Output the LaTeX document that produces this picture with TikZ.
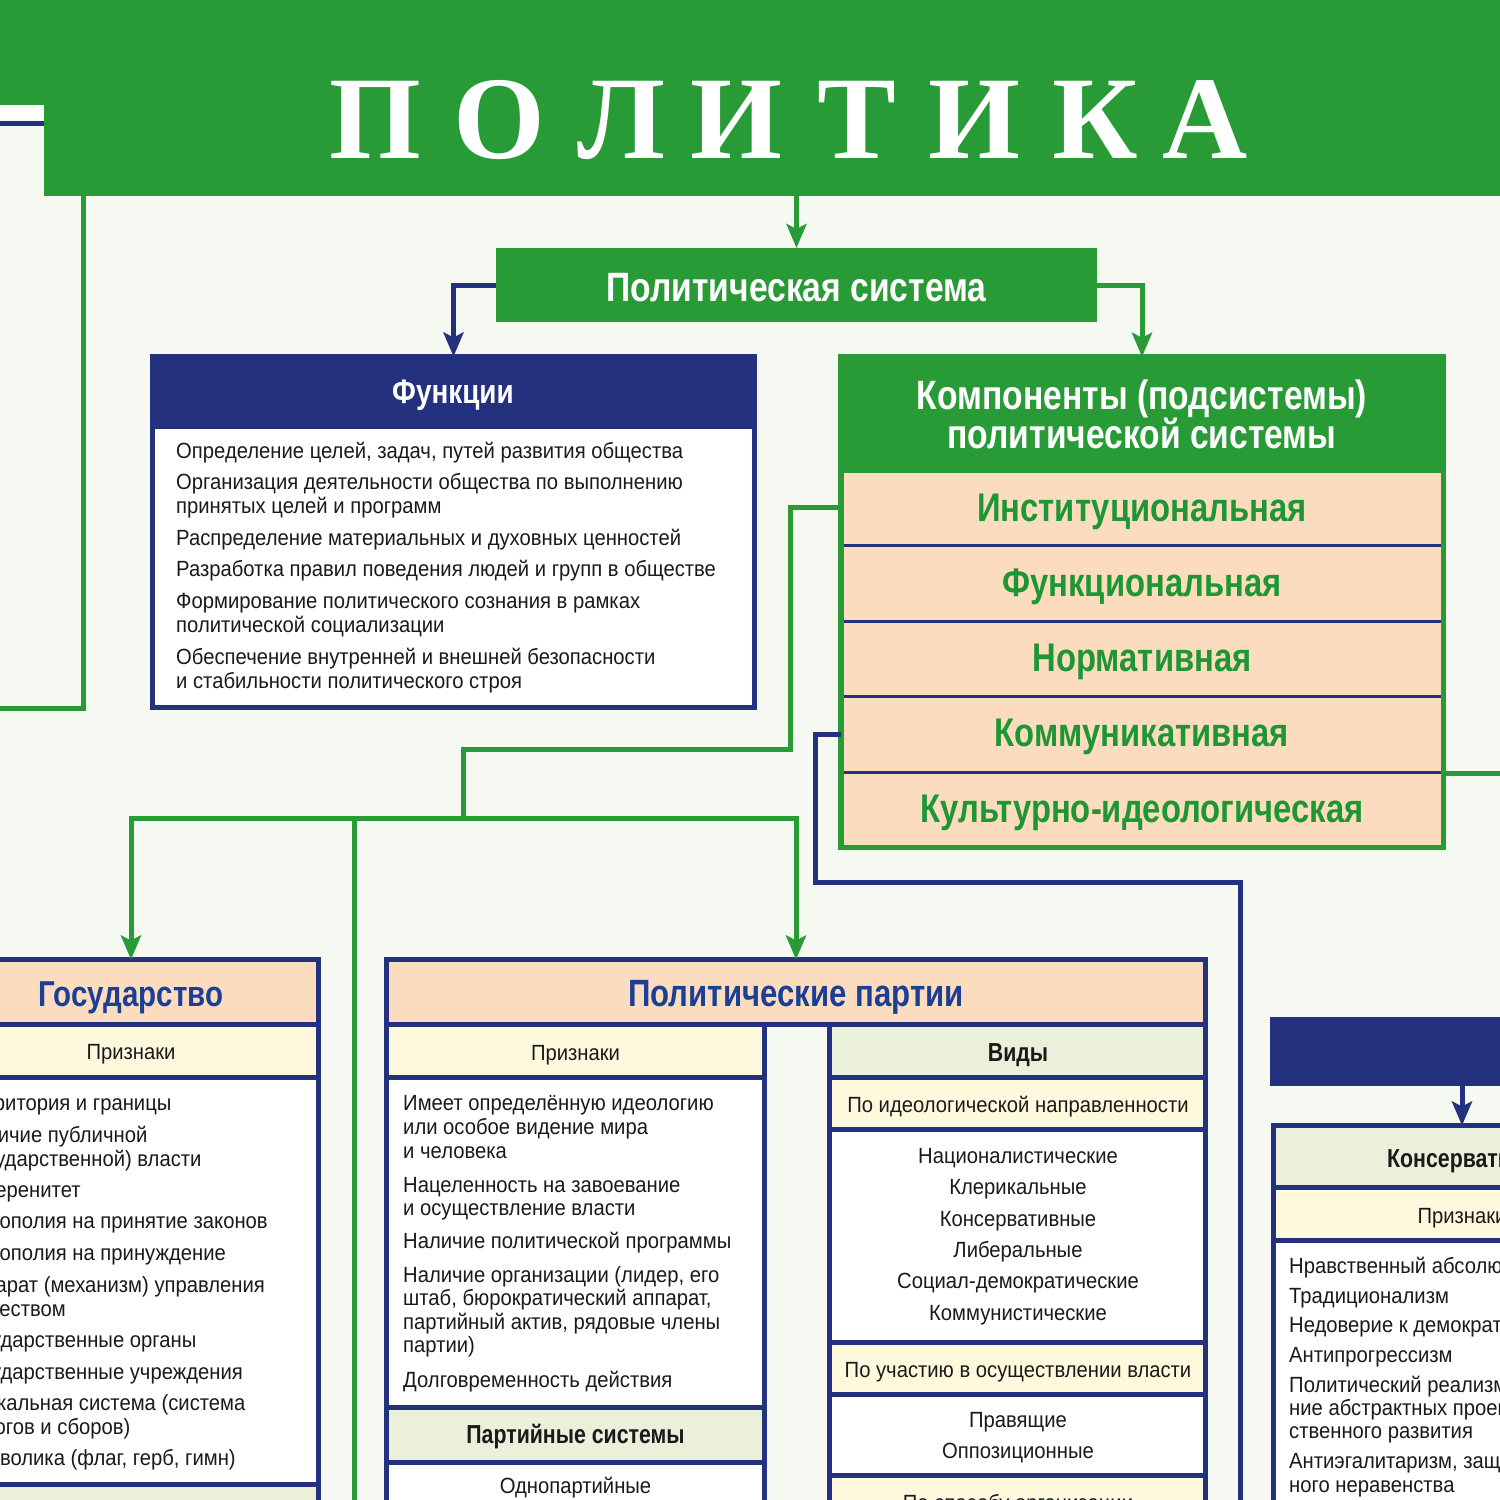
\documentclass[tikz,border=0pt]{standalone}
\usepackage{fontspec}
\setmainfont{Liberation Sans}[FakeStretch=0.92]
\newfontfamily\hdfont{Liberation Sans}[FakeStretch=0.82]
\newfontfamily\ttlfont{Liberation Serif}
\usetikzlibrary{arrows.meta}
\definecolor{pgreen}{HTML}{289B37}
\definecolor{pnavy}{HTML}{23317E}
\definecolor{peach}{HTML}{FCDCBE}
\definecolor{pyel}{HTML}{FEF9DD}
\definecolor{plg}{HTML}{EBF0DA}
\definecolor{pbg}{HTML}{F6F9F2}
\definecolor{hblue}{HTML}{1B3F94}
\definecolor{rgreen}{HTML}{1E9634}
\definecolor{ink}{HTML}{1A1A1A}
\newcommand\bx[6]{\node[#6, inner sep=0pt, outer sep=0pt, anchor=north west,
  minimum width={((#4)-(#2))*1pt}, minimum height={((#5)-(#3))*1pt}] (#1) at (#2,#3) {};}
\tikzset{
  gline/.style={draw=pgreen, line width=5pt, line join=miter},
  nline/.style={draw=pnavy, line width=5pt, line join=miter},
  garrow/.style={gline, -{Stealth[length=24pt,width=20pt,inset=5pt]}},
  narrow/.style={nline, -{Stealth[length=24pt,width=20pt,inset=5pt]}},
  peachcell/.style={fill=peach, draw=pnavy, line width=5pt},
  yelcell/.style={fill=pyel, draw=pnavy, line width=5pt},
  lgcell/.style={fill=plg, draw=pnavy, line width=5pt},
  whitecell/.style={fill=white, draw=pnavy, line width=5pt},
  rowcell/.style={fill=peach, draw=pnavy, line width=3pt},
  body/.style={inner sep=0pt, anchor=base west, text=ink, font=\fontsize{22}{24}\selectfont},
  bodyc/.style={body, anchor=base},
  subhd/.style={inner sep=0pt, anchor=base, text=ink, font=\hdfont\bfseries\fontsize{26}{28}\selectfont},
  hdw/.style={inner sep=0pt, anchor=base, text=white, font=\hdfont\bfseries\fontsize{41}{43}\selectfont},
  hdb/.style={inner sep=0pt, anchor=base, text=hblue, font=\hdfont\bfseries\fontsize{36}{38}\selectfont},
  rowtxt/.style={inner sep=0pt, anchor=base, text=rgreen, font=\hdfont\bfseries\fontsize{40}{42}\selectfont},
  ttl/.style={inner sep=0pt, anchor=base, text=white, font=\ttlfont\bfseries\fontsize{118}{118}\selectfont}
}
\begin{document}
\begin{tikzpicture}[x=1pt,y=-1pt]
\useasboundingbox (0,0) rectangle (1500,1500);
\begin{scope}
\clip (0,0) rectangle (1500,1500);
\fill[pbg] (0,0) rectangle (1500,1500);
% ---------- title ----------
\bx{title}{44}{-5}{1510}{196}{fill=pgreen}
\fill[pgreen] (-5,-5) rectangle (50,105);
\fill[white] (-5,105) rectangle (44,120);
\coordinate (tl) at (-10,123);
\draw[nline] (tl) -- (title.west |- tl);
\foreach \l/\x [count=\i] in {П/375,О/499,Л/621,И/736,Т/857,И/974,К/1095,А/1205}
  \node[ttl] (t\i) at (\x,158) {\l};
% ---------- political system ----------
\bx{ps}{496}{248}{1097}{322}{fill=pgreen}
\node[hdw] (pst) at (796.5,301) {Политическая система};
% ---------- functions ----------
\bx{fnb}{152.5}{423.5}{754.5}{707.5}{fill=white, draw=pnavy, line width=5.5pt}
\bx{fnh}{152.5}{356.5}{754.5}{426}{fill=pnavy, draw=pnavy, line width=5.5pt}
\node[hdw, font=\hdfont\bfseries\fontsize{34}{36}\selectfont] (fnt) at (453,403) {Функции};
\foreach \t/\y [count=\i] in {
  {Определение целей, задач, путей развития общества}/458,
  {Организация деятельности общества по выполнению}/489,
  {принятых целей и программ}/513,
  {Распределение материальных и духовных ценностей}/545,
  {Разработка правил поведения людей и групп в обществе}/576,
  {Формирование политического сознания в рамках}/608,
  {политической социализации}/632,
  {Обеспечение внутренней и внешней безопасности}/664,
  {и стабильности политического строя}/688}
  \node[body] (fl\i) at (176,\y) {\t};
% ---------- components ----------
\bx{r1}{841}{470}{1443}{545.5}{rowcell}
\bx{r2}{841}{545.5}{1443}{621}{rowcell}
\bx{r3}{841}{621}{1443}{696}{rowcell}
\bx{r4}{841}{696}{1443}{772}{rowcell}
\bx{r5}{841}{772}{1443}{848}{rowcell}
\bx{comph}{840.75}{356.75}{1443.25}{470}{fill=pgreen, draw=pgreen, line width=5.5pt}
\bx{comp}{840.75}{356.75}{1443.25}{847.25}{draw=pgreen, line width=5.5pt}
\node[hdw] (ct1) at (1142,409) {Компоненты (подсистемы)};
\node[hdw] (ct2) at (1142,448) {политической системы};
\node[rowtxt] (rt1) at (1142,521) {Институциональная};
\node[rowtxt] (rt2) at (1142,596) {Функциональная};
\node[rowtxt] (rt3) at (1142,671) {Нормативная};
\node[rowtxt] (rt4) at (1142,746) {Коммуникативная};
\node[rowtxt] (rt5) at (1142,822) {Культурно-идеологическая};
% ---------- state ----------
\bx{gosh}{-60}{959.5}{318.5}{1024}{peachcell}
\bx{gosp}{-60}{1024}{318.5}{1077}{yelcell}
\bx{gosb}{-60}{1077}{318.5}{1484.5}{whitecell}
\bx{gosf}{-60}{1484.5}{318.5}{1560}{lgcell}
\node[hdb] (gost) at (131,1006) {Государство};
\node[bodyc] (gospt) at (131,1059) {Признаки};
\foreach \t/\y [count=\i] in {
  {Территория и границы}/1110,
  {Наличие публичной}/1142,
  {(государственной) власти}/1166,
  {Суверенитет}/1197,
  {Монополия на принятие законов}/1228,
  {Монополия на принуждение}/1260,
  {Аппарат (механизм) управления}/1292,
  {обществом}/1316,
  {Государственные органы}/1347,
  {Государственные учреждения}/1379,
  {Фискальная система (система}/1410,
  {налогов и сборов)}/1434,
  {Символика (флаг, герб, гимн)}/1465}
  \node[body] (gl\i) at (-40,\y) {\t};
% ---------- parties ----------
\bx{pph}{386.5}{959.5}{1205.5}{1024.5}{peachcell}
\node[hdb, font=\hdfont\bfseries\fontsize{38}{40}\selectfont] (ppt) at (796,1006) {Политические партии};
\bx{ppp}{386.5}{1024.5}{764.5}{1077}{yelcell}
\bx{ppb}{386.5}{1077}{764.5}{1407.5}{whitecell}
\bx{pps}{386.5}{1407.5}{764.5}{1462.5}{lgcell}
\bx{ppo}{386.5}{1462.5}{764.5}{1560}{whitecell}
\node[bodyc] (pppt) at (575.5,1060) {Признаки};
\foreach \t/\y [count=\i] in {
  {Имеет определённую идеологию}/1110,
  {или особое видение мира}/1134,
  {и человека}/1158,
  {Нацеленность на завоевание}/1192,
  {и осуществление власти}/1215,
  {Наличие политической программы}/1248,
  {Наличие организации (лидер, его}/1282,
  {штаб, бюрократический аппарат,}/1305,
  {партийный актив, рядовые члены}/1329,
  {партии)}/1352,
  {Долговременность действия}/1387}
  \node[body] (pl\i) at (403,\y) {\t};
\node[subhd] (ppst) at (575.5,1443) {Партийные системы};
\node[bodyc] (ppot) at (575.5,1493) {Однопартийные};
\bx{vv}{829.5}{1024.5}{1205.5}{1077}{lgcell}
\bx{v1}{829.5}{1077}{1205.5}{1129.5}{yelcell}
\bx{v1b}{829.5}{1129.5}{1205.5}{1342}{whitecell}
\bx{v2}{829.5}{1342}{1205.5}{1394.5}{yelcell}
\bx{v2b}{829.5}{1394.5}{1205.5}{1475}{whitecell}
\bx{v3}{829.5}{1475}{1205.5}{1560}{yelcell}
\node[subhd] (vvt) at (1018,1061) {Виды};
\node[bodyc] (v1t) at (1018,1112) {По идеологической направленности};
\foreach \t/\y [count=\i] in {
  Националистические/1163, Клерикальные/1194, Консервативные/1226,
  Либеральные/1257, Социал-демократические/1288, Коммунистические/1320}
  \node[bodyc] (vi\i) at (1018,\y) {\t};
\node[bodyc] (v2t) at (1018,1377) {По участию в осуществлении власти};
\node[bodyc] (vp1) at (1018,1427) {Правящие};
\node[bodyc] (vp2) at (1018,1458) {Оппозиционные};
\node[bodyc] (v3t) at (1018,1510) {По способу организации};
% ---------- conservatism ----------
\bx{kn}{1270}{1017}{1650}{1086}{fill=pnavy}
\bx{kc}{1273.5}{1125.5}{1650.5}{1187.5}{lgcell}
\bx{kp}{1273.5}{1187.5}{1650.5}{1240.5}{yelcell}
\bx{kb}{1273.5}{1240.5}{1650.5}{1600}{whitecell}
\node[subhd] (kct) at (1462,1167) {Консерватизм};
\node[bodyc] (kpt) at (1462,1223) {Признаки};
\foreach \t/\y [count=\i] in {
  {Нравственный абсолютизм}/1273,
  {Традиционализм}/1303,
  {Недоверие к демократии}/1332,
  {Антипрогрессизм}/1362,
  {Политический реализм, отрица-}/1392,
  {ние абстрактных проектов обще-}/1415,
  {ственного развития}/1438,
  {Антиэгалитаризм, защита социаль-}/1468,
  {ного неравенства}/1492}
  \node[body] (kl\i) at (1289,\y) {\t};
% ---------- connectors ----------
\draw[garrow] (ps.north |- title.south) -- (ps.north);
\draw[narrow] (ps.west) -| (fnh.north);
\draw[garrow] (ps.east) -| (comph.north);
\coordinate (lc) at (83,708);
\coordinate (lo) at (-10,708);
\draw[gline] (title.south -| lc) -- (lc) -- (lo);
\coordinate (j1) at (790,749);
\coordinate (b0) at (463,818);
\coordinate (b1) at (354,818);
\coordinate (b2) at (354,1510);
\draw[gline] (r1.west) -| (j1) -| (b0);
\draw[garrow] (b0) -| (131,959.5);
\draw[garrow] (b0) -| (pph.north);
\draw[gline] (b1) -- (b2);
\coordinate (e1) at (1510,773);
\draw[gline] (comp.east |- e1) -- (e1);
\coordinate (n1) at (815,882);
\coordinate (n2) at (1240,1510);
\draw[nline] (r4.west) -| (n1) -| (n2);
\draw[narrow] (kn.south -| kc.north) -- (kc.north);
\end{scope}
\end{tikzpicture}
\end{document}
